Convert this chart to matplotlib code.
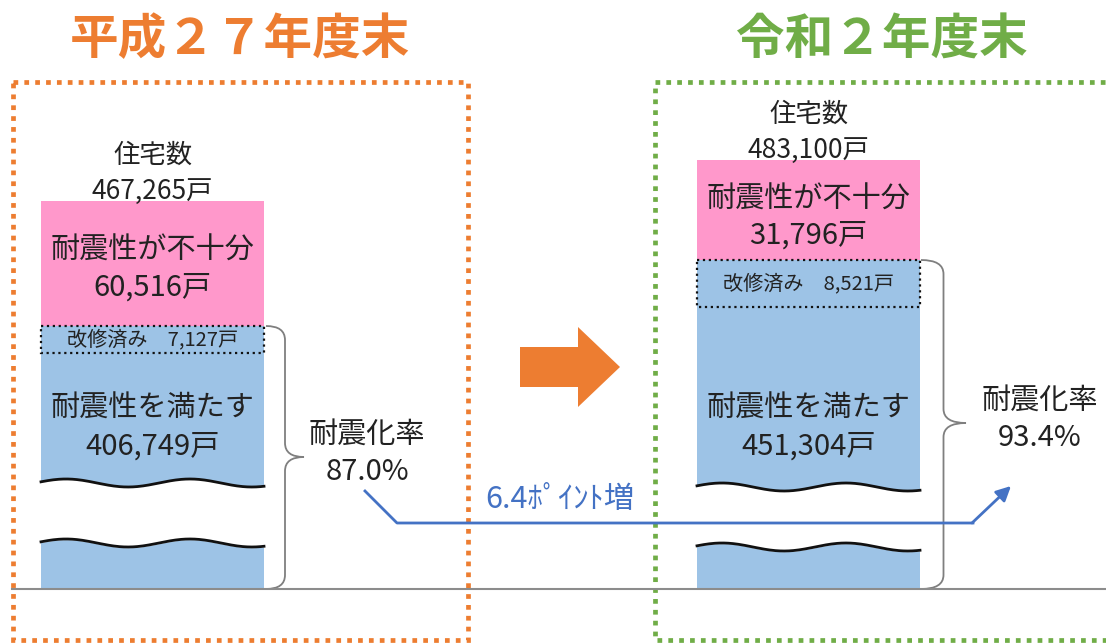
import matplotlib
matplotlib.use('Agg')
import numpy as np
import matplotlib.pyplot as plt
from matplotlib import patches
from matplotlib.path import Path

plt.rcParams['font.family'] = ['Noto Sans CJK JP', 'DejaVu Sans']

# データ（平成27年度末 / 令和2年度末）
nendo = ['平成２７年度末', '令和２年度末']
jutaku = [467265, 483100]      # 住宅数
fujubun = [60516, 31796]       # 耐震性が不十分
kaishu = [7127, 8521]          # 改修済み
mitasu = [406749, 451304]      # 耐震性を満たす
ritsu = [87.0, 93.4]           # 耐震化率

# レイアウト（ピクセル座標）
bar_x = [152.5, 808.5]
bar_w = 223
bar_top = [201, 160]
pink_bot = [326, 260]
kai_bot = [353, 307]
base_y = 589
wave_y = [(483, 543), (487, 547)]
title_x = [240, 882]
title_c = ['#ED7D31', '#70AD47']
box_x = [(13, 468), (655, 1160)]
brace_x = [266, 921]
brace_w = [38, 45]
brace_mid = [457, 423]
rate_x = [367, 1040]

txt_c = '#222222'
pink = '#FF98CB'
blue = '#9DC3E6'

fig = plt.figure(figsize=(11.06, 6.43), dpi=100)
ax = fig.add_axes([0, 0, 1, 1])
ax.set_xlim(0, 1106)
ax.set_ylim(643, 0)
ax.axis('off')


def brace(x0, y_top, y_bot, y_mid, w):
    h = w / 2
    r = 14
    verts = [(x0, y_top), (x0 + h, y_top), (x0 + h, y_top + r),
             (x0 + h, y_mid - r),
             (x0 + h, y_mid), (x0 + w, y_mid),
             (x0 + h, y_mid), (x0 + h, y_mid + r),
             (x0 + h, y_bot - r),
             (x0 + h, y_bot), (x0, y_bot)]
    codes = [Path.MOVETO, Path.CURVE3, Path.CURVE3,
             Path.LINETO,
             Path.CURVE3, Path.CURVE3,
             Path.CURVE3, Path.CURVE3,
             Path.LINETO,
             Path.CURVE3, Path.CURVE3]
    ax.add_patch(patches.PathPatch(Path(verts, codes), fill=False,
                                   ec='#7f7f7f', lw=1.3, zorder=4))


for i in range(2):
    # タイトルと点線枠
    ax.text(title_x[i], 40, nendo[i], color=title_c[i], fontsize=35,
            fontweight='bold', ha='center', va='center')
    x0, x1 = box_x[i]
    ax.add_patch(patches.Rectangle((x0, 82), x1 - x0, 558, fill=False,
                                   ec=title_c[i], lw=3.4,
                                   linestyle=(0, (1, 1.3)), zorder=2))

    # 棒
    xl = bar_x[i] - bar_w / 2
    ax.bar(bar_x[i], pink_bot[i] - bar_top[i], bottom=bar_top[i],
           width=bar_w, color=pink, zorder=3)
    ax.bar(bar_x[i], base_y - pink_bot[i], bottom=pink_bot[i],
           width=bar_w, color=blue, zorder=3)
    ax.add_patch(patches.Rectangle((xl, pink_bot[i]), bar_w,
                                   kai_bot[i] - pink_bot[i], fill=False,
                                   ec='#111111', lw=1.6, linestyle=':',
                                   zorder=5))

    # 省略の波線
    xs = np.linspace(xl, xl + bar_w, 200)
    t = (xs - xl) / bar_w
    w1 = wave_y[i][0] - 4 * np.sin(2 * np.pi * 1.8 * t + 0.3)
    w2 = wave_y[i][1] - 4 * np.sin(2 * np.pi * 1.8 * t + 0.3)
    ax.fill_between(xs, w1, w2, color='white', zorder=4)
    ax.plot(xs, w1, color='#111111', lw=2, zorder=5)
    ax.plot(xs, w2, color='#111111', lw=2, zorder=5)

    # 文字
    ax.text(bar_x[i], bar_top[i] - 46, '住宅数', color=txt_c, fontsize=19,
            ha='center', va='center', zorder=6)
    ax.text(bar_x[i], bar_top[i] - 10, f'{jutaku[i]:,}戸', color=txt_c,
            fontsize=19, ha='center', va='center', zorder=6)
    ax.text(bar_x[i], pink_bot[i] - 75 if i == 0 else pink_bot[i] - 60,
            '耐震性が不十分', color=txt_c, fontsize=21, ha='center',
            va='center', zorder=6)
    ax.text(bar_x[i], pink_bot[i] - 38 if i == 0 else pink_bot[i] - 24,
            f'{fujubun[i]:,}戸', color=txt_c, fontsize=21, ha='center',
            va='center', zorder=6)
    ax.text(bar_x[i], (pink_bot[i] + kai_bot[i]) / 2, f'改修済み　{kaishu[i]:,}戸',
            color=txt_c, fontsize=14.5, ha='center', va='center', zorder=6)
    ax.text(bar_x[i], 409, '耐震性を満たす', color=txt_c, fontsize=21,
            ha='center', va='center', zorder=6)
    ax.text(bar_x[i], 447, f'{mitasu[i]:,}戸', color=txt_c, fontsize=21,
            ha='center', va='center', zorder=6)

    # 括弧と耐震化率
    brace(brace_x[i], pink_bot[i], base_y, brace_mid[i], brace_w[i])
    ax.text(rate_x[i], brace_mid[i] - 22, '耐震化率', color=txt_c,
            fontsize=21, ha='center', va='center', zorder=6)
    ax.text(rate_x[i], brace_mid[i] + 15, f'{ritsu[i]:.1f}%', color=txt_c,
            fontsize=21, ha='center', va='center', zorder=6)

# 基準線
ax.plot([12, 1106], [base_y, base_y], color='#8c8c8c', lw=1.5, zorder=6)

# 中央の矢印
ax.add_patch(patches.FancyArrow(520, 367, 100, 0, width=40, head_width=80,
                                head_length=42, length_includes_head=True,
                                color='#ED7D31', lw=0, zorder=3))

# ポイント増の矢印
line_c = '#4472C4'
ax.plot([365, 397, 973], [491, 523, 523], color=line_c, lw=2, zorder=6)
ax.annotate('', xy=(1011, 486), xytext=(972, 523),
            arrowprops=dict(arrowstyle='-|>', color=line_c, lw=2,
                            mutation_scale=22, shrinkA=0, shrinkB=0),
            zorder=6)
ax.text(560, 500, f'{ritsu[1] - ritsu[0]:.1f}ﾎﾟｲﾝﾄ増', color=line_c,
        fontsize=22, ha='center', va='center', zorder=6)

fig.savefig('out.png', dpi=100)
